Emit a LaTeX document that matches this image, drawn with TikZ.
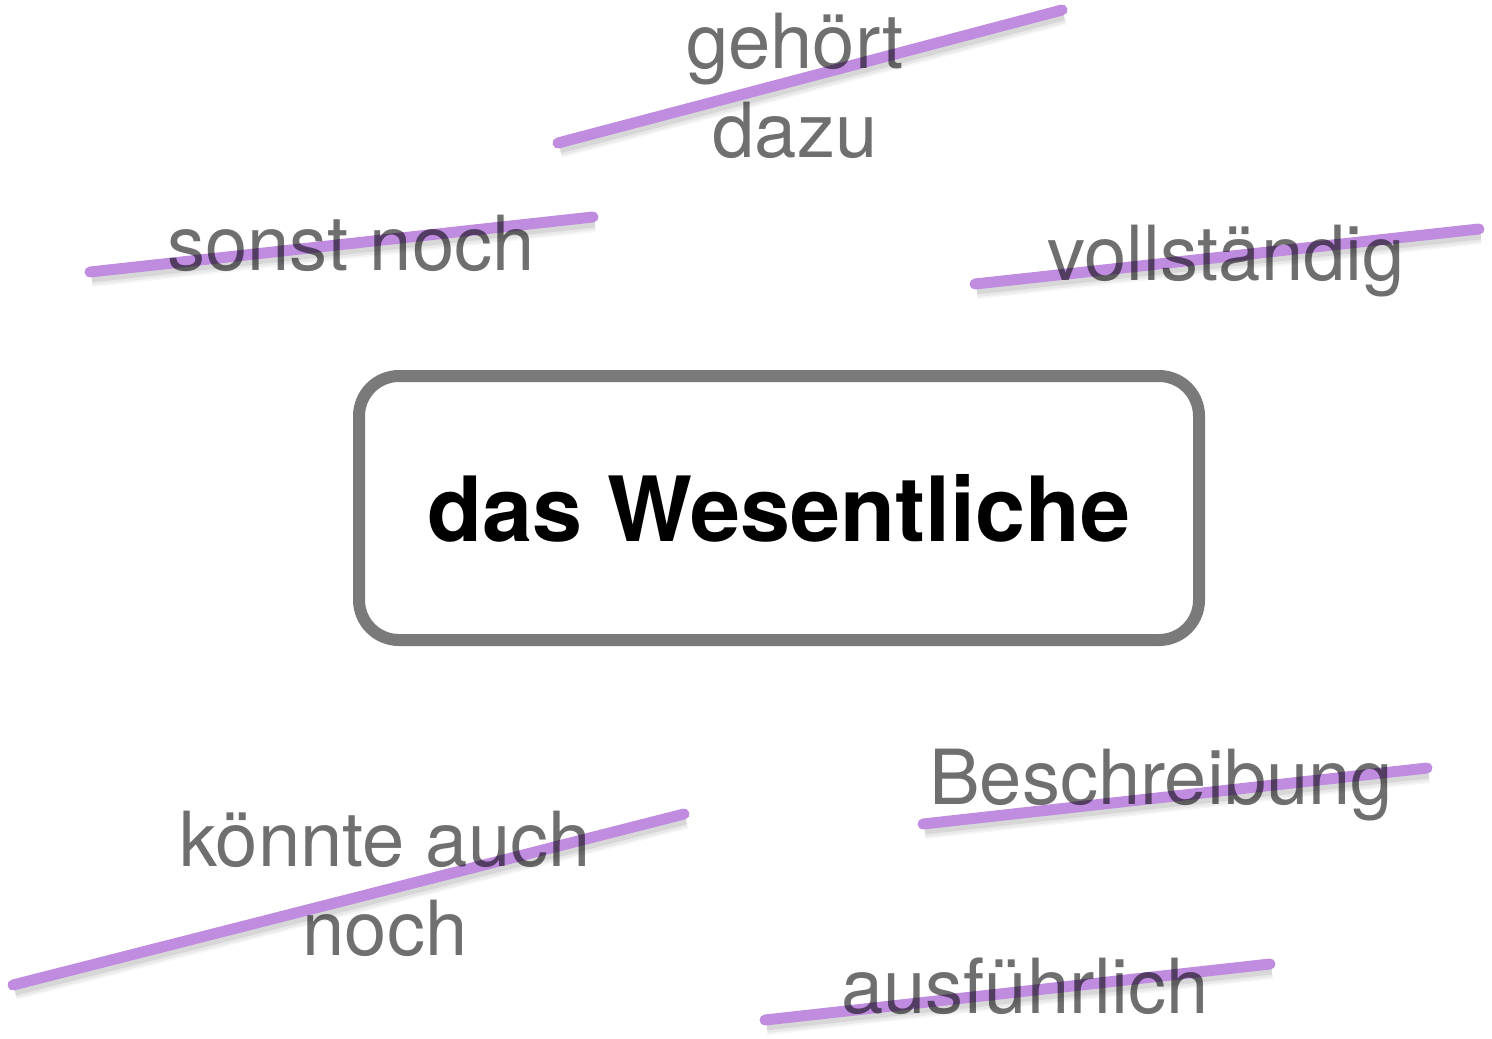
\documentclass[tikz,border=0pt]{standalone}
\usepackage{fontspec}
\setmainfont{TeX Gyre Heros}
\usepackage{tikz}

\definecolor{strikepurple}{HTML}{BF8CE0}
\definecolor{wordgray}{HTML}{6F6F6F}
\definecolor{boxgray}{HTML}{7A7A7A}

\begin{document}
\begin{tikzpicture}[x=0.5pt, y=-0.5pt,
	word/.style={text=wordgray, font=\fontsize{38}{44.5}\selectfont, align=center, anchor=base, inner sep=0pt, blend mode=multiply},
	core/.style={draw=boxgray, line width=6pt, rounded corners=20pt, fill=white, minimum width=420pt, minimum height=132pt, font=\fontsize{45}{54}\selectfont\bfseries},
	strike/.style={line width=5.5pt, line cap=round, draw=strikepurple,
		preaction={draw=black, opacity=0.04, line width=10pt, transform canvas={shift={(0.8pt,-2.5pt)}}},
		preaction={draw=black, opacity=0.05, line width=8pt, transform canvas={shift={(0.8pt,-2.5pt)}}},
		preaction={draw=black, opacity=0.08, line width=6pt, transform canvas={shift={(0.8pt,-2.2pt)}}}}]
		\useasboundingbox (0,0) rectangle (1492,1038);
		\node[core] (wesen) at (779,508) {das Wesentliche};
		\draw[strike] (558,143) -- (1062,10);
		\draw[strike] (90,272) -- (593,217);
		\draw[strike] (975,284) -- (1479,229);
		\draw[strike] (13,985) -- (684,814);
		\draw[strike] (923,824) -- (1427,768);
		\draw[strike] (765,1020) -- (1270,964);
		\node[word] (gehoert) at (795,157) {gehört\\dazu};
		\node[word] (sonst) at (351,270) {sonst noch};
		\node[word] (vollst) at (1226,280) {vollständig};
		\node[word] (koennte) at (385,955) {könnte auch\\noch};
		\node[word] (beschr) at (1161,804) {Beschreibung};
		\node[word] (ausf) at (1025,1013) {ausführlich};
	\end{tikzpicture}
\end{document}
